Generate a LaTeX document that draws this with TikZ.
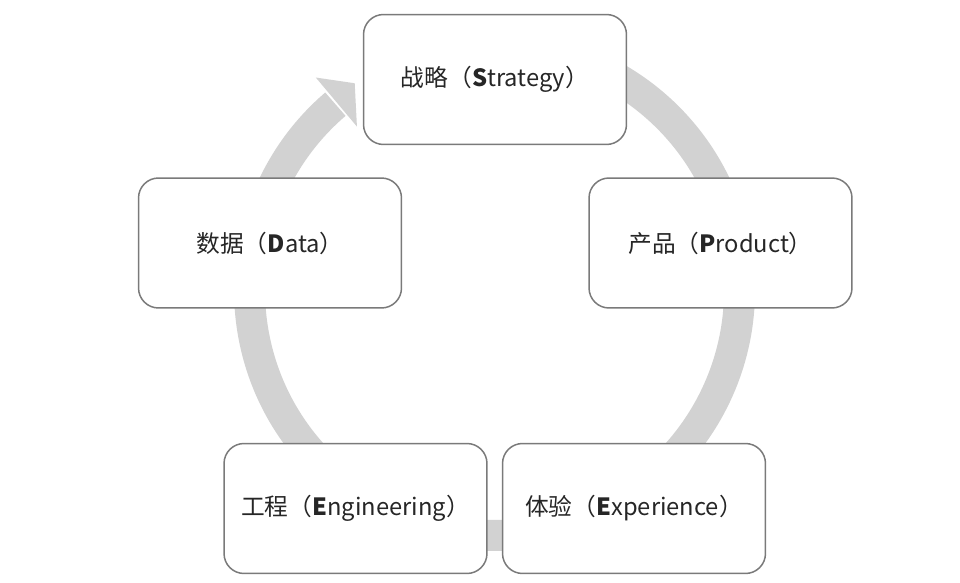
\documentclass[tikz,border=0pt]{standalone}
\usepackage{fontspec}
\setmainfont{Noto Sans CJK SC}
\usepackage{xcolor}
\usepackage{tikz}
\usetikzlibrary{calc}

\definecolor{ringgray}{HTML}{D2D2D2}
\definecolor{boxgray}{HTML}{7A7A7A}
\definecolor{textgray}{HTML}{262626}

\begin{document}
\begin{tikzpicture}[x=0.02cm, y=0.02cm,
    stagebox/.style={draw=boxgray, line width=0.85pt, fill=white, rounded corners=0.4cm,
      minimum width=5.26cm, minimum height=2.6cm, text=textgray,
      font=\fontsize{13.5pt}{16pt}\selectfont},
    ring/.style={draw=ringgray, line width=0.62cm}]
		\useasboundingbox (0,0) rectangle (960,582);
		\coordinate (c) at (494.5,291.5);
		
		% Ring with arrow head
		\draw[ring] ($(c)+(100:245)$) arc[start angle=100, end angle=-229.5, radius=4.9cm];
		\fill[ringgray] ($(c)+(130:278)$) -- ($(c)+(124:250)$) -- ($(c)+(130:214)$) -- cycle;
		
		% Stages
		\node[stagebox] (strategy) at (495,502.5) {战略（\textbf{S}trategy）};
		\node[stagebox] (product) at (720.5,339) {产品（\textbf{P}roduct）};
		\node[stagebox] (experience) at (634,73.5) {体验（\textbf{E}xperience）};
		\node[stagebox] (engineering) at (355.5,73.5) {工程（\textbf{E}ngineering）};
		\node[stagebox] (data) at (270,339) {数据（\textbf{D}ata）};
	\end{tikzpicture}
\end{document}
